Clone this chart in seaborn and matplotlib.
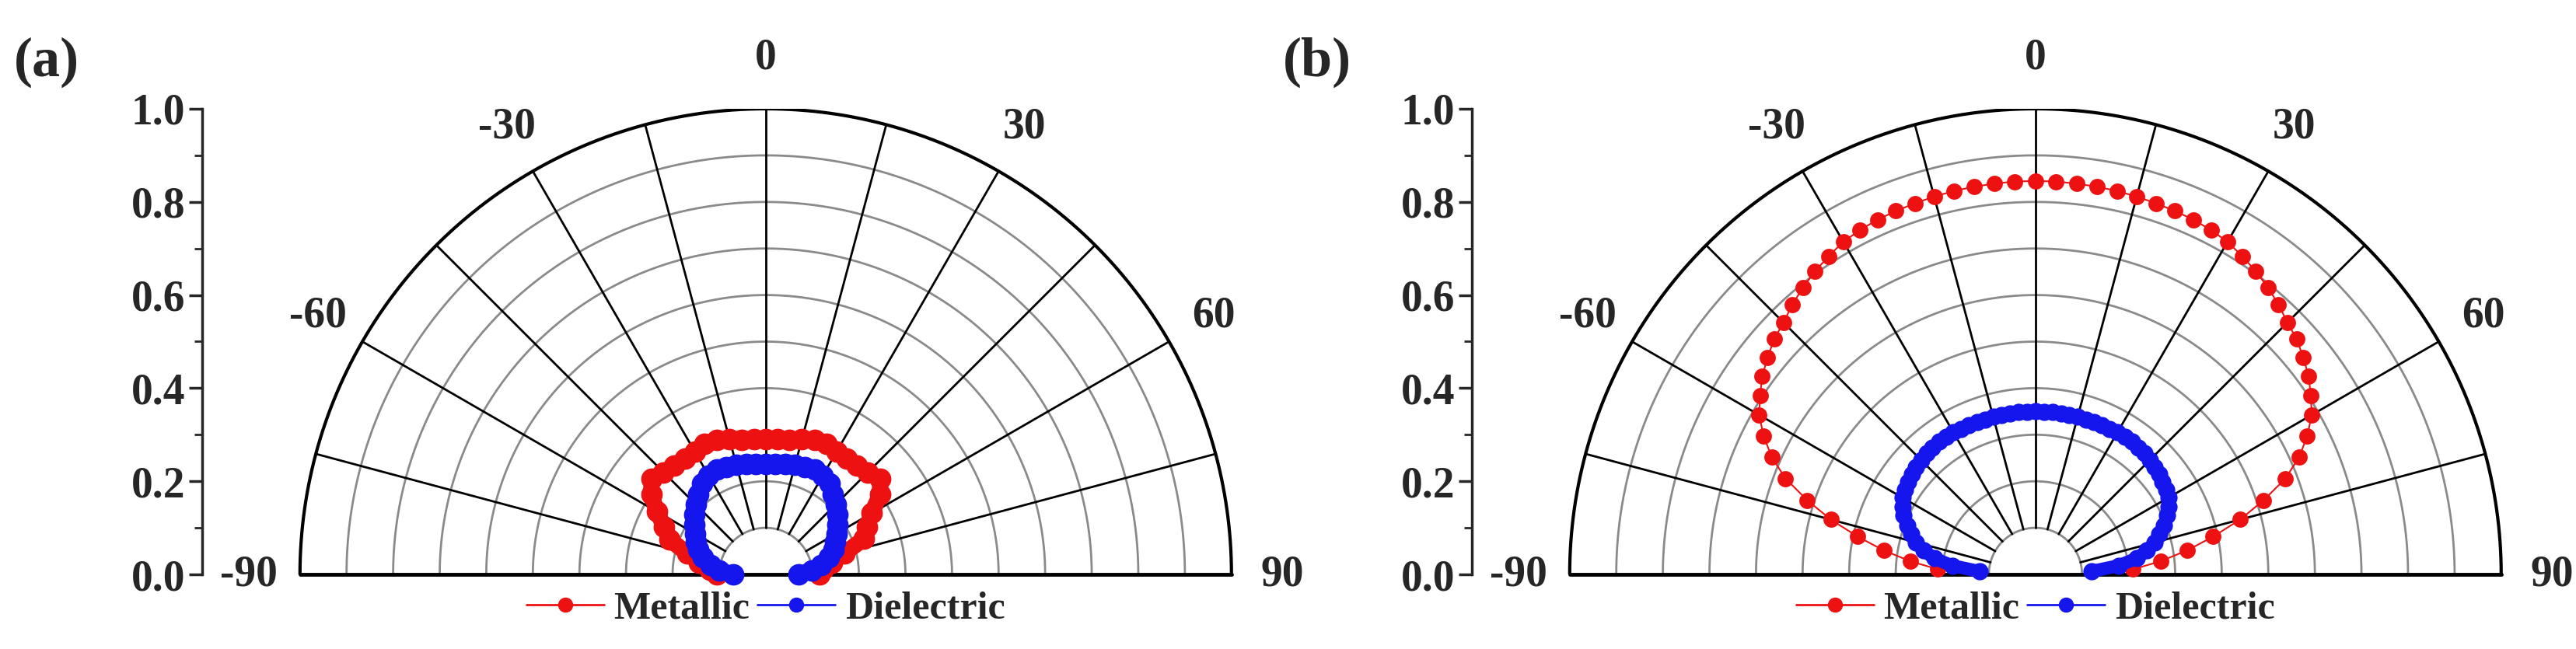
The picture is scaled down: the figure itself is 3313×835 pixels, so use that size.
import numpy as np
import matplotlib.pyplot as plt
import seaborn as sns
from matplotlib.lines import Line2D

theta_a = [-90, -85, -80, -75, -70, -65, -60, -55, -50, -45, -40, -35, -30, -25, -20, -15, -10, -5, 0,
           5, 10, 15, 20, 25, 30, 35, 40, 45, 50, 55, 60, 65, 70, 75, 80, 85, 90]
metal_a = [0.105, 0.12, 0.145, 0.175, 0.22, 0.24, 0.27, 0.30, 0.32, 0.31, 0.305, 0.303, 0.304, 0.31, 0.308, 0.30, 0.294, 0.291, 0.29,
           0.291, 0.294, 0.30, 0.308, 0.31, 0.304, 0.303, 0.305, 0.31, 0.32, 0.30, 0.263, 0.24, 0.225, 0.175, 0.145, 0.125, 0.115]
diel_a = [0.07, 0.10, 0.12, 0.14, 0.155, 0.165, 0.175, 0.187, 0.20, 0.212, 0.225, 0.238, 0.245, 0.248, 0.246, 0.243, 0.24, 0.238, 0.237,
          0.238, 0.24, 0.243, 0.246, 0.248, 0.245, 0.238, 0.225, 0.212, 0.20, 0.187, 0.175, 0.165, 0.155, 0.14, 0.12, 0.10, 0.07]

theta_b = [-87, -84, -81, -78, -75, -72, -69, -66, -63, -60, -57, -54, -51, -48, -45, -42, -39, -36, -33, -30,
           -27, -24, -21, -18, -15, -12, -9, -6, -3, 0, 3, 6, 9, 12, 15, 18, 21, 24, 27, 30,
           33, 36, 39, 42, 45, 48, 51, 54, 57, 60, 63, 66, 69, 72, 75, 78, 81, 84, 87]
metal_b = [0.21, 0.27, 0.33, 0.39, 0.455, 0.515, 0.575, 0.62, 0.655, 0.685, 0.705, 0.725, 0.74, 0.755, 0.765, 0.78, 0.793, 0.805, 0.815, 0.825,
           0.83, 0.834, 0.836, 0.838, 0.84, 0.842, 0.843, 0.844, 0.845, 0.845, 0.845, 0.844, 0.843, 0.842, 0.84, 0.838, 0.836, 0.834, 0.83, 0.825,
           0.815, 0.805, 0.793, 0.78, 0.765, 0.755, 0.74, 0.725, 0.705, 0.685, 0.655, 0.62, 0.575, 0.515, 0.455, 0.39, 0.33, 0.27, 0.21]
diel_b = [0.12, 0.18, 0.22, 0.245, 0.265, 0.28, 0.295, 0.31, 0.32, 0.33, 0.334, 0.337, 0.341, 0.345, 0.347, 0.35, 0.351, 0.352, 0.352, 0.352,
          0.351, 0.351, 0.35, 0.35, 0.35, 0.35, 0.35, 0.35, 0.35, 0.35, 0.35, 0.35, 0.35, 0.35, 0.35, 0.35, 0.35, 0.351, 0.351, 0.352,
          0.352, 0.352, 0.351, 0.35, 0.347, 0.345, 0.341, 0.337, 0.334, 0.33, 0.32, 0.31, 0.295, 0.28, 0.265, 0.245, 0.22, 0.18, 0.12]

angle_ticks = [-90, -60, -30, 0, 30, 60, 90]
radial_ticks = [0.0, 0.2, 0.4, 0.6, 0.8, 1.0]

sns.set_style("white")
plt.rcParams['font.family'] = ['Liberation Serif', 'DejaVu Serif']
plt.rcParams['font.weight'] = 'bold'

fig = plt.figure(figsize=(33.13, 8.35), dpi=100)
W, H = 3313, 835
R = 599


def to_xy(theta, r):
    t = np.deg2rad(np.asarray(theta, float))
    r = np.asarray(r, float)
    return r * np.sin(t), r * np.cos(t)


def draw_panel(left_px, label, label_x, th, metal, diel, ms_m, ms_d, lw_m, lw_d):
    ax = fig.add_axes([left_px / W, (H - 739) / H, 2.36 * R / W, R / H])
    ax.set_xlim(-1.21, 1.15)
    ax.set_ylim(0, 1)
    phi = np.linspace(-90, 90, 361)
    # gray radial circles
    for rr in np.arange(0.1, 0.95, 0.1):
        x, y = to_xy(phi, np.full_like(phi, rr))
        ax.plot(x, y, color="#8a8a8a", lw=2, zorder=1)
    # spokes
    for a in range(-75, 90, 15):
        x, y = to_xy([a, a], [0.1, 1.0])
        ax.plot(x, y, color="black", lw=2, zorder=1)
    x, y = to_xy(phi, np.ones_like(phi))
    ax.plot(x, y, color="black", lw=3, zorder=2)
    ax.plot([-1, 1], [0, 0], color="black", lw=3.5, zorder=2, clip_on=False)
    # angle labels
    for a in angle_ticks:
        x, y = to_xy(a, 1.11)
        ax.text(x, y, str(a), ha="center", va="center", fontsize=40, fontweight="bold")
    # data
    xm, ym = to_xy(th, metal)
    xd, yd = to_xy(th, diel)
    sns.lineplot(x=xm, y=ym, sort=False, ax=ax, color="#ee1111", lw=lw_m, marker="o",
                 markersize=ms_m, markeredgewidth=0, zorder=4, clip_on=False)
    sns.lineplot(x=xd, y=yd, sort=False, ax=ax, color="#1515ee", lw=lw_d, marker="o",
                 markersize=ms_d, markeredgewidth=0, zorder=5, clip_on=False)
    # axis styling
    for s in ["top", "right", "bottom"]:
        ax.spines[s].set_visible(False)
    ax.spines["left"].set_linewidth(2.5)
    ax.set_xticks([])
    ax.set_yticks(radial_ticks)
    ax.set_yticks(np.arange(0.1, 1.0, 0.2), minor=True)
    ax.set_yticklabels([f"{v:.1f}" for v in radial_ticks], fontsize=40, fontweight="bold")
    ax.tick_params(axis="y", which="major", direction="out", length=12, width=2.5, left=True)
    ax.tick_params(axis="y", which="minor", direction="out", length=7, width=2, left=True)
    handles = [Line2D([], [], color="#ee1111", lw=2, marker="o", markersize=13),
               Line2D([], [], color="#1515ee", lw=2, marker="o", markersize=13)]
    ax.legend(handles, ["Metallic", "Dielectric"], loc="center", bbox_to_anchor=(0.0, -0.075),
              bbox_transform=ax.transData, ncol=2, frameon=False, handlelength=2.0,
              columnspacing=0.2, handletextpad=0.25, prop={"size": 36, "weight": "bold"})
    fig.text(label_x / W, 1 - 80 / H, label, ha="left", va="center", fontsize=52, fontweight="bold")
    return ax


draw_panel(260, "(a)", 18, theta_a, metal_a, diel_a, 20, 20, 15, 15)
draw_panel(1893, "(b)", 1650, theta_b, metal_b, diel_b, 15, 16, 1.5, 12)

fig.savefig("out.png", dpi=100)
